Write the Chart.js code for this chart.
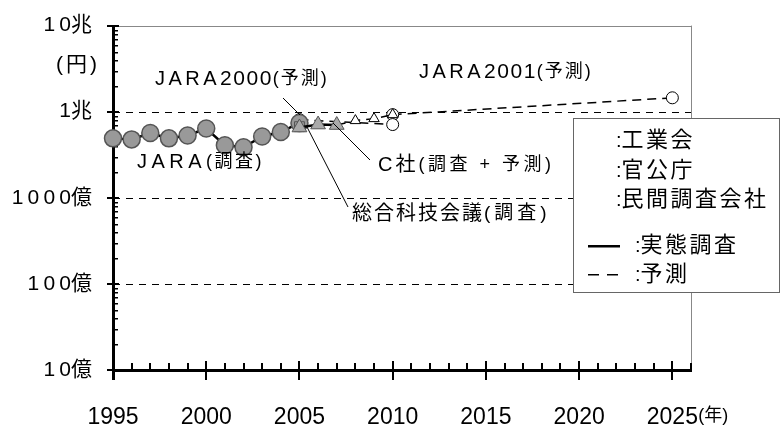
<!DOCTYPE html>
<html><head><meta charset="utf-8">
<script src="https://cdn.jsdelivr.net/npm/chart.js@4.4.1/dist/chart.umd.min.js"></script>
<style>html,body{margin:0;background:#fff}</style>
</head><body>
<canvas id="c" width="781" height="426"></canvas>
<script>
const FONT = "'Liberation Sans','Noto Sans CJK JP',sans-serif";
const T = '\u2009';

// 単位: 億円
const yTicks = [10, 100, 1000, 10000, 100000];
const yTickLabels = ['1'+T+'0億', '1'+T+'0'+T+'0億', '1'+T+'0'+T+'0'+T+'0億', '1兆', '1'+T+'0兆'];
const xTicks = [1995, 2000, 2005, 2010, 2015, 2020, 2025];

const jaraYears = [1995,1996,1997,1998,1999,2000,2001,2002,2003,2004,2005];
const jaraVals = [4900,4770,5660,4900,5300,6380,4070,3860,5160,5810,7400];
const jara2000Years = [2005, 2010];
const jara2000Vals = [8090, 7090];
const jara2001Years = [2010, 2025];
const jara2001Vals = [9240, 14500];
const cstpYears = [2005];
const cstpVals = [6700];
const cSurveyYears = [2005, 2006, 2007];
const cSurveyVals = [6550, 7090, 7000];
const cForecastYears = [2007, 2008, 2009, 2010];
const cForecastVals = [7000, 7880, 8310, 9240];

const pts = (xs, ys) => xs.map((x, i) => ({x: x, y: ys[i]}));

// axis lines + ticks, filled as rects
function drawAxes(chart) {
  const {ctx, chartArea: a, scales: {x, y}} = chart;
  ctx.save();
  ctx.strokeStyle = '#000'; ctx.lineWidth = 1; ctx.setLineDash([7, 6]);
  [100, 1000, 10000].forEach(v => {
    const py = Math.round(y.getPixelForValue(v)) + 0.5;
    ctx.beginPath(); ctx.moveTo(a.left, py); ctx.lineTo(a.right, py); ctx.stroke();
  });
  ctx.setLineDash([]);
  ctx.fillStyle = '#888';
  ctx.fillRect(a.left, Math.round(a.top), a.right - a.left, 1);
  ctx.fillRect(Math.round(a.right), a.top, 1, a.bottom - a.top);
  ctx.fillStyle = '#000';
  const L = Math.round(a.left), B = Math.round(a.bottom);
  ctx.fillRect(L - 1, a.top, 3, B - a.top + 10);
  yTicks.forEach(v => {
    const py = Math.round(y.getPixelForValue(v));
    ctx.fillRect(L - 6, py - 1, 12, 2);
  });
  yTicks.slice(0, -1).forEach(d => {
    for (let k = 2; k <= 9; k++) {
      const py = Math.round(y.getPixelForValue(d * k));
      ctx.fillRect(L, py, 5, 1.5);
    }
  });
  ctx.fillRect(L - 1, B - 1, Math.round(a.right) - L + 2, 3);
  for (let yr = 1995; yr <= 2026; yr++) {
    const px = Math.round(x.getPixelForValue(yr));
    if (yr % 5 === 0) ctx.fillRect(px - 1, B - 9, 2, 19);
    else ctx.fillRect(px - 1, B - 7, 2, 7);
  }
  ctx.restore();
}

const axesPlugin = {
  id: 'axes',
  beforeDatasetsDraw(chart) { drawAxes(chart); }
};

function drawParts(ctx, x, y, parts) {
  ctx.textBaseline = 'middle'; ctx.textAlign = 'left';
  parts.forEach(p => {
    ctx.font = p.size + 'px ' + FONT;
    ctx.letterSpacing = (p.ls || 0) + 'px';
    ctx.fillText(p.t, x, y);
    x += ctx.measureText(p.t).width;
  });
  ctx.letterSpacing = '0px';
}

const notesPlugin = {
  id: 'notes',
  afterDatasetsDraw(chart) {
    const {ctx, scales: {x}} = chart;
    ctx.save();
    ctx.fillStyle = '#000'; ctx.strokeStyle = '#000'; ctx.lineWidth = 1;
    [[283, 98, 300, 115], [370, 160, 333, 123], [348, 207, 307, 127]].forEach(l => {
      ctx.beginPath(); ctx.moveTo(l[0], l[1]); ctx.lineTo(l[2], l[3]); ctx.stroke();
    });
    drawParts(ctx, 155, 79, [{t: 'JARA', size: 20, ls: 3.5}, {t: '2000', size: 21, ls: 1.5}, {t: '(予測)', size: 18, ls: 2}]);
    drawParts(ctx, 419, 72, [{t: 'JARA', size: 20, ls: 3.5}, {t: '2001', size: 21, ls: 1.5}, {t: '(予測)', size: 18, ls: 2}]);
    drawParts(ctx, 137, 162, [{t: 'JARA', size: 20, ls: 4.5}, {t: '(調査)', size: 18, ls: 2.5}]);
    drawParts(ctx, 378, 165, [{t: 'C社', size: 20, ls: 3}, {t: '(調査 + 予測)', size: 18, ls: 3.5}]);
    drawParts(ctx, 352, 214, [{t: '総合科技会議', size: 20, ls: 2}, {t: '(調査)', size: 19, ls: 4}]);
    ctx.textAlign = 'right'; ctx.textBaseline = 'middle';
    ctx.font = '21px ' + FONT;
    ctx.letterSpacing = '3px';
    ctx.fillText('(円)', 100, 65);
    ctx.letterSpacing = '0px';
    ctx.textAlign = 'left';
    ctx.font = '18px ' + FONT;
    ctx.fillText('(年)', x.getPixelForValue(2025) + 26, 416);
    // legend box
    ctx.fillStyle = '#fff'; ctx.strokeStyle = '#666';
    ctx.fillRect(573, 118, 207, 175);
    ctx.strokeRect(573.5, 118.5, 206, 174);
    ctx.fillStyle = '#000';
    const rows = [[616, 141, '工業会'], [616, 171, '官公庁'], [616, 200, '民間調査会社'], [635, 246, '実態調査'], [635, 275, '予測']];
    rows.forEach(r => drawParts(ctx, r[0], r[1], [{t: ':', size: 20}, {t: r[2], size: 22, ls: 2.5}]));
    ctx.fillRect(588, 245, 32, 2.5);
    ctx.fillRect(588, 274, 11, 1.5);
    ctx.fillRect(607, 274, 11, 1.5);
    ctx.restore();
  }
};

new Chart(document.getElementById('c'), {
  type: 'line',
  data: {
    datasets: [
      {label: 'JARA2001(予測)', data: pts(jara2001Years, jara2001Vals), borderColor: '#000', borderWidth: 1.5, borderDash: [9, 6],
        pointStyle: 'circle', pointRadius: 6, pointBackgroundColor: '#fff', pointBorderColor: '#000', pointBorderWidth: 1, order: 6},
      {label: 'JARA2000(予測)', data: pts(jara2000Years, jara2000Vals), borderColor: '#000', borderWidth: 1.5, borderDash: [9, 6],
        pointStyle: 'circle', pointRadius: 6, pointBackgroundColor: '#fff', pointBorderColor: '#000', pointBorderWidth: 1, order: 5},
      {label: 'C社(予測)', data: pts(cForecastYears, cForecastVals), borderColor: '#000', borderWidth: 1.5, borderDash: [9, 6],
        pointStyle: 'triangle', pointRadius: [0, 6, 6, 6], pointBackgroundColor: '#fff', pointBorderColor: '#000', pointBorderWidth: 1, order: 4},
      {label: 'JARA(調査)', data: pts(jaraYears, jaraVals), borderColor: '#000', borderWidth: 2.5,
        pointStyle: 'circle', pointRadius: 8.5, pointBackgroundColor: '#999', pointBorderColor: '#555', pointBorderWidth: 1.5, order: 3},
      {label: '総合科技会議(調査)', data: pts(cstpYears, cstpVals), showLine: false,
        pointStyle: 'rect', pointRadius: 7, pointBackgroundColor: '#999', pointBorderColor: '#555', pointBorderWidth: 1, order: 2},
      {label: 'C社(調査)', data: pts(cSurveyYears, cSurveyVals), borderColor: '#000', borderWidth: 2.5,
        pointStyle: 'triangle', pointRadius: 8.5, pointBackgroundColor: '#aaa', pointBorderColor: '#555', pointBorderWidth: 1, order: 1}
    ]
  },
  options: {
    responsive: false,
    animation: false,
    datasets: {line: {clip: false, tension: 0}},
    layout: {padding: {top: 23, right: 90, left: 0, bottom: 0}},
    plugins: {legend: {display: false}, tooltip: {enabled: false}},
    scales: {
      x: {
        type: 'linear', min: 1995, max: 2026,
        afterBuildTicks: s => { s.ticks = xTicks.map(v => ({value: v})); },
        afterFit: s => { s.height = 56; },
        grid: {display: false}, border: {display: false},
        ticks: {color: '#000', padding: 26, maxRotation: 0, font: {family: FONT, size: 23}, callback: v => String(v)}
      },
      y: {
        type: 'logarithmic', min: 10, max: 100000,
        afterBuildTicks: s => { s.ticks = yTicks.map(v => ({value: v})); },
        afterFit: s => { s.width = 113; },
        grid: {display: false}, border: {display: false},
        ticks: {color: '#000', padding: 13, font: {family: FONT, size: 21},
          callback: v => yTickLabels[yTicks.indexOf(v)]}
      }
    }
  },
  plugins: [axesPlugin, notesPlugin]
});
</script>
</body></html>
